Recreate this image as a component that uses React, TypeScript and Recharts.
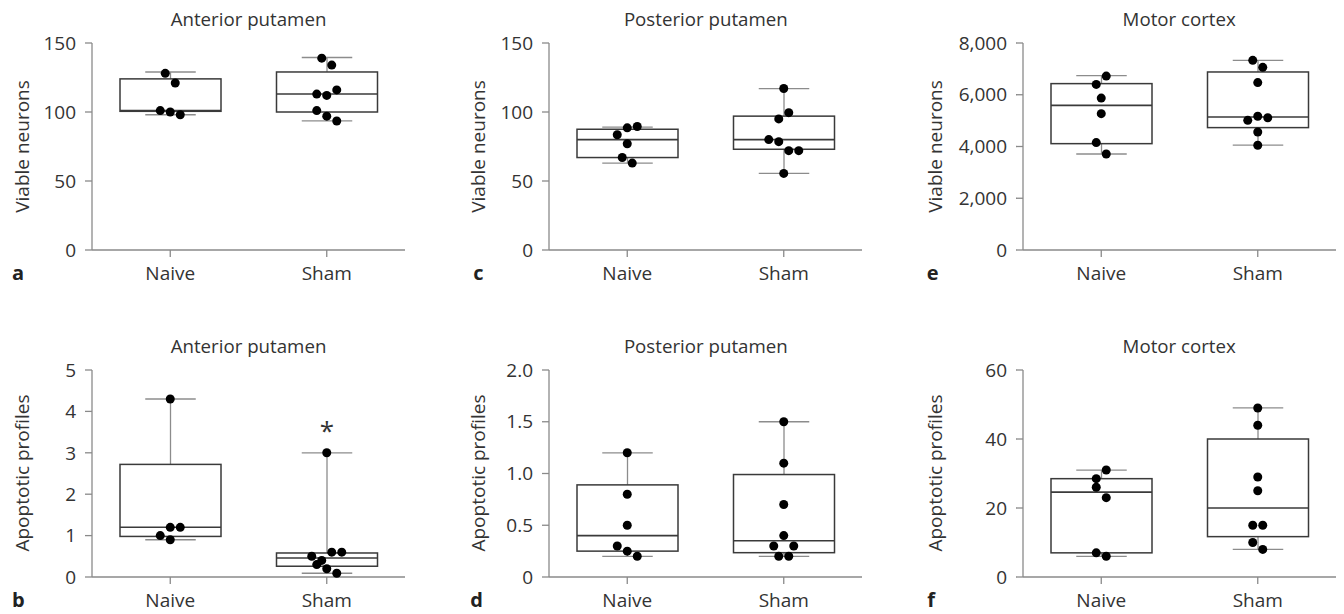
import React from 'react';
import { ComposedChart, Bar, Scatter, XAxis, YAxis } from 'recharts';

// ---------- data ----------
const categories = ['Naive', 'Sham'];

// a: Anterior putamen, viable neurons
const aNaive = [128, 121, 101, 100, 98];
const aSham = [139, 134, 113, 112, 116, 101, 97, 93.5];
const aNaiveBox = [98, 100.5, 101, 124, 129]; // min, q1, median, q3, max
const aShamBox = [93.5, 100, 113, 129, 139.5];

// c: Posterior putamen, viable neurons
const cNaive = [83.5, 88.5, 89.5, 77, 67, 63];
const cSham = [117, 95, 99.5, 80, 78.5, 72, 72, 55.5];
const cNaiveBox = [63, 67, 80, 87.5, 89];
const cShamBox = [55.5, 73, 80, 97, 117];

// e: Motor cortex, viable neurons
const eNaive = [6400, 6720, 5870, 5270, 4150, 3710];
const eSham = [7330, 7060, 6470, 5010, 5170, 5110, 4560, 4050];
const eNaiveBox = [3710, 4110, 5590, 6430, 6740];
const eShamBox = [4050, 4730, 5140, 6880, 7330];

// b: Anterior putamen, apoptotic profiles
const bNaive = [4.3, 1.0, 1.2, 1.2, 0.9];
const bSham = [3.0, 0.5, 0.4, 0.6, 0.6, 0.3, 0.2, 0.09];
const bNaiveBox = [0.9, 0.98, 1.2, 2.72, 4.3];
const bShamBox = [0.09, 0.26, 0.46, 0.58, 3.0];
const bSignificance = ['', '*'];

// d: Posterior putamen, apoptotic profiles
const dNaive = [1.2, 0.8, 0.5, 0.3, 0.25, 0.2];
const dSham = [1.5, 1.1, 0.7, 0.3, 0.4, 0.3, 0.2, 0.2];
const dNaiveBox = [0.2, 0.25, 0.4, 0.89, 1.2];
const dShamBox = [0.2, 0.235, 0.35, 0.99, 1.5];

// f: Motor cortex, apoptotic profiles
const fNaive = [28.5, 31, 26, 23, 7, 6];
const fSham = [49, 44, 29, 25, 15, 15, 10, 8];
const fNaiveBox = [6, 7, 24.6, 28.5, 31];
const fShamBox = [8, 11.7, 20, 40, 49];

// tick values
const ticksPutamenViable = [0, 50, 100, 150];
const ticksCortexViable = [0, 2000, 4000, 6000, 8000];
const ticksAnteriorApo = [0, 1, 2, 3, 4, 5];
const ticksPosteriorApo = [0, 0.5, 1, 1.5, 2];
const ticksCortexApo = [0, 20, 40, 60];

// ---------- layout / style ----------
const FONT = '"Open Sans", "Noto Sans", sans-serif';
const PLOT_W = 313;
const PLOT_H = 207;
const Y_AXIS_W = 100;
const M_TOP = 25;
const M_RIGHT = 10;
const X_AXIS_H = 45;
const TEXT = '#333333';
const AXIS = '#8a8a8a';
const BOX = '#3a3a3a';
const WHISK = '#8c8c8c';
const DOT_R = 4.5;
const SWARM_STEP = 10;
const SWARM_ROW = 12;

const fmtPlain = (v: number) => String(v);
const fmtThousands = (v: number) => v.toLocaleString('en-US');
const fmtOneDec = (v: number) => (v === 0 ? '0' : v.toFixed(1));

type PanelDef = {
  letter: string;
  title: string;
  yLabel: string;
  left: number;
  top: number;
  yMax: number;
  ticks: number[];
  fmt: (v: number) => string;
  points: number[][];
  boxes: number[][];
  sig?: string[];
  labelDist: number;
  letterDist: number;
};

const panels: PanelDef[] = [
  { letter: 'a', title: 'Anterior putamen', yLabel: 'Viable neurons', left: 92, top: 43, yMax: 150, ticks: ticksPutamenViable, fmt: fmtPlain, points: [aNaive, aSham], boxes: [aNaiveBox, aShamBox], labelDist: 70.5, letterDist: 80 },
  { letter: 'c', title: 'Posterior putamen', yLabel: 'Viable neurons', left: 549.3, top: 43, yMax: 150, ticks: ticksPutamenViable, fmt: fmtPlain, points: [cNaive, cSham], boxes: [cNaiveBox, cShamBox], labelDist: 71.5, letterDist: 76 },
  { letter: 'e', title: 'Motor cortex', yLabel: 'Viable neurons', left: 1022.7, top: 43, yMax: 8000, ticks: ticksCortexViable, fmt: fmtThousands, points: [eNaive, eSham], boxes: [eNaiveBox, eShamBox], labelDist: 87.5, letterDist: 96 },
  { letter: 'b', title: 'Anterior putamen', yLabel: 'Apoptotic profiles', left: 92, top: 369.5, yMax: 5, ticks: ticksAnteriorApo, fmt: fmtPlain, points: [bNaive, bSham], boxes: [bNaiveBox, bShamBox], sig: bSignificance, labelDist: 70.5, letterDist: 80 },
  { letter: 'd', title: 'Posterior putamen', yLabel: 'Apoptotic profiles', left: 549.3, top: 369.5, yMax: 2, ticks: ticksPosteriorApo, fmt: fmtOneDec, points: [dNaive, dSham], boxes: [dNaiveBox, dShamBox], labelDist: 71.5, letterDist: 79 },
  { letter: 'f', title: 'Motor cortex', yLabel: 'Apoptotic profiles', left: 1022.7, top: 369.5, yMax: 60, ticks: ticksCortexApo, fmt: fmtPlain, points: [fNaive, fSham], boxes: [fNaiveBox, fShamBox], labelDist: 87.5, letterDist: 95.5 },
];

// beeswarm: group points whose pixel distance from the row's first point is small,
// spread each row symmetrically around the category centre
function swarmOffsets(values: number[], pxPerUnit: number): number[] {
  const order = values.map((v, i) => i).sort((i, j) => values[j] - values[i]);
  const offsets = new Array(values.length).fill(0);
  let row: number[] = [];
  const flush = () => {
    const members = [...row].sort((a, b) => a - b);
    const n = members.length;
    members.forEach((idx, k) => {
      offsets[idx] = (k - (n - 1) / 2) * SWARM_STEP;
    });
    row = [];
  };
  order.forEach((idx) => {
    if (row.length && (values[row[0]] - values[idx]) * pxPerUnit > SWARM_ROW) flush();
    row.push(idx);
  });
  if (row.length) flush();
  return offsets;
}

const BoxShape = (props: any) => {
  const { x, y, width, height, payload } = props;
  if (x == null || y == null) return null;
  const top = Math.min(y, y + height);
  const bottom = Math.max(y, y + height);
  const { min, q1, med, q3, max, sig } = payload;
  const toY = (v: number) => (max === min ? top : bottom - ((v - min) / (max - min)) * (bottom - top));
  const cx = x + width / 2;
  const cap = width / 4;
  const yq1 = toY(q1);
  const yq3 = toY(q3);
  const ymed = toY(med);
  return (
    <g>
      <line x1={cx} x2={cx} y1={top} y2={yq3} stroke={WHISK} strokeWidth={1.3} />
      <line x1={cx} x2={cx} y1={yq1} y2={bottom} stroke={WHISK} strokeWidth={1.3} />
      <line x1={cx - cap} x2={cx + cap} y1={top} y2={top} stroke={WHISK} strokeWidth={1.3} />
      <line x1={cx - cap} x2={cx + cap} y1={bottom} y2={bottom} stroke={WHISK} strokeWidth={1.3} />
      <rect x={x} y={yq3} width={width} height={Math.max(0, yq1 - yq3)} fill="#fff" stroke={BOX} strokeWidth={1.5} />
      <line x1={x} x2={x + width} y1={ymed} y2={ymed} stroke={BOX} strokeWidth={1.6} />
      {sig ? (
        <text x={cx} y={top - 13} textAnchor="middle" fontFamily={FONT} fontSize={26} fill={TEXT}>
          {sig}
        </text>
      ) : null}
    </g>
  );
};

const DotShape = (props: any) => {
  const { cx, cy, payload } = props;
  if (cx == null || cy == null) return null;
  return <circle cx={cx + (payload?.dx ?? 0)} cy={cy} r={DOT_R} fill="#000" />;
};

function Panel({ p }: { p: PanelDef }) {
  const data = categories.map((c, i) => ({
    cat: c,
    min: p.boxes[i][0],
    q1: p.boxes[i][1],
    med: p.boxes[i][2],
    q3: p.boxes[i][3],
    max: p.boxes[i][4],
    sig: p.sig ? p.sig[i] : '',
  }));
  const pxPerUnit = PLOT_H / p.yMax;
  const pointSets = categories.map((c, i) => {
    const offs = swarmOffsets(p.points[i], pxPerUnit);
    return p.points[i].map((v, k) => ({ cat: c, value: v, dx: offs[k] }));
  });
  const W = Y_AXIS_W + PLOT_W + M_RIGHT;
  const H = M_TOP + PLOT_H + X_AXIS_H;
  const tickStyle = { fill: TEXT, fontSize: 19, fontFamily: FONT };
  return (
    <div style={{ position: 'absolute', left: p.left - Y_AXIS_W, top: p.top - M_TOP, width: W, height: H }}>
      <ComposedChart width={W} height={H} data={data} margin={{ top: M_TOP, right: M_RIGHT, left: 0, bottom: 0 }}>
        <XAxis
          dataKey="cat"
          type="category"
          allowDuplicatedCategory={false}
          height={X_AXIS_H}
          tickSize={7}
          tickMargin={10}
          tick={tickStyle}
          axisLine={{ stroke: AXIS, strokeWidth: 1.3 }}
          tickLine={{ stroke: AXIS, strokeWidth: 1.3 }}
          interval={0}
        />
        <YAxis
          type="number"
          width={Y_AXIS_W}
          domain={[0, p.yMax]}
          ticks={p.ticks}
          interval={0}
          tickFormatter={p.fmt}
          tickSize={7}
          tickMargin={9}
          tick={tickStyle}
          axisLine={{ stroke: AXIS, strokeWidth: 1.3 }}
          tickLine={{ stroke: AXIS, strokeWidth: 1.3 }}
        />
        <Bar dataKey={(d: any) => [d.min, d.max]} barSize={101} shape={BoxShape} isAnimationActive={false} />
        {pointSets.map((pts, i) => (
          <Scatter key={i} data={pts} dataKey="value" shape={DotShape} isAnimationActive={false} />
        ))}
      </ComposedChart>
    </div>
  );
}

export default function App() {
  return (
    <div style={{ position: 'absolute', left: 0, top: 0, width: 1344, height: 614, background: '#fff', overflow: 'hidden' }}>
      {panels.map((p) => (
        <Panel key={p.letter} p={p} />
      ))}
      <svg width={1344} height={614} style={{ position: 'absolute', left: 0, top: 0, pointerEvents: 'none' }}>
        {panels.map((p) => (
          <g key={p.letter}>
            <text x={p.left + PLOT_W / 2} y={p.top - 17} textAnchor="middle" fontFamily={FONT} fontSize={18.7} fill={TEXT}>
              {p.title}
            </text>
            <text
              transform={`translate(${p.left - p.labelDist}, ${p.top + PLOT_H / 2}) rotate(-90)`}
              textAnchor="middle"
              dominantBaseline="central"
              fontFamily={FONT}
              fontSize={19}
              fill={TEXT}
            >
              {p.yLabel}
            </text>
            <text x={p.left - p.letterDist} y={p.top + PLOT_H + 30} fontFamily={FONT} fontSize={20} fontWeight="bold" fill="#222">
              {p.letter}
            </text>
          </g>
        ))}
      </svg>
    </div>
  );
}
